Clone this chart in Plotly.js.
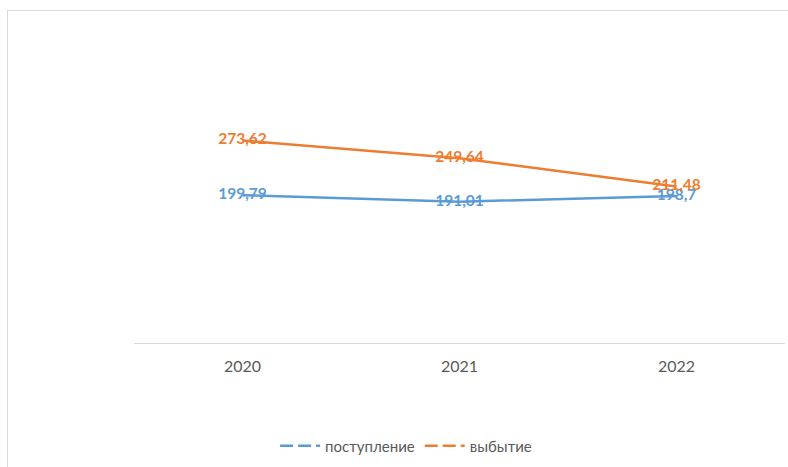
<!DOCTYPE html>
<html>
<head>
<meta charset="utf-8">
<script src="https://cdn.plot.ly/plotly-3.0.1.min.js"></script>
<style>
html,body{margin:0;padding:0;background:#fff;}
#chart{position:absolute;left:0;top:0;width:788px;height:467px;}
#frame{position:absolute;left:7px;top:10px;width:800px;height:480px;border:1px solid #d9d9d9;pointer-events:none;}
</style>
</head>
<body>
<div id="chart"></div>
<div id="frame"></div>
<script>
const years = ['2020', '2021', '2022'];
const postuplenie = [199.79, 191.01, 198.7];
const vybytie = [273.62, 249.64, 211.48];
const seriesNames = ['поступление', 'выбытие'];
const colors = ['#5B9BD5', '#ED7D31'];

const fmt = v => String(v).replace('.', ',');
const font = 'Lato, "Open Sans", sans-serif';

const series = [postuplenie, vybytie];
const traces = [];
series.forEach((vals, i) => {
  traces.push({
    x: years, y: vals, type: 'scatter', mode: 'lines+text',
    line: {color: colors[i], width: 2.5},
    text: vals.map(fmt), textposition: 'middle center',
    textfont: {family: font, size: 15.5, color: colors[i], weight: 'bold'},
    showlegend: false, hoverinfo: 'skip', cliponaxis: false
  });
});
series.forEach((vals, i) => {
  traces.push({
    x: [null], y: [null], type: 'scatter', mode: 'lines',
    name: seriesNames[i],
    line: {color: colors[i], width: 2.5, dash: '13px,5px'},
    showlegend: true
  });
});

const layout = {
  width: 788, height: 467,
  margin: {l: 134, r: 3, t: 121, b: 124},
  paper_bgcolor: '#fff', plot_bgcolor: '#fff',
  xaxis: {
    type: 'category', range: [-0.5, 2.5],
    showline: true, linecolor: '#d9d9d9', linewidth: 1,
    showgrid: false, zeroline: false, ticks: '',
    tickfont: {family: font, size: 16, color: '#595959'},
    ticklabelstandoff: 9
  },
  yaxis: {
    range: [0, 300], visible: false, showgrid: false, zeroline: false
  },
  showlegend: true,
  legend: {
    orientation: 'h', x: 0.418, xanchor: 'center', y: -0.464, yanchor: 'middle',
    font: {family: font, size: 15, color: '#595959'},
    itemwidth: 40, traceorder: 'normal'
  }
};

Plotly.newPlot('chart', traces, layout, {staticPlot: true, displayModeBar: false});
</script>
</body>
</html>
